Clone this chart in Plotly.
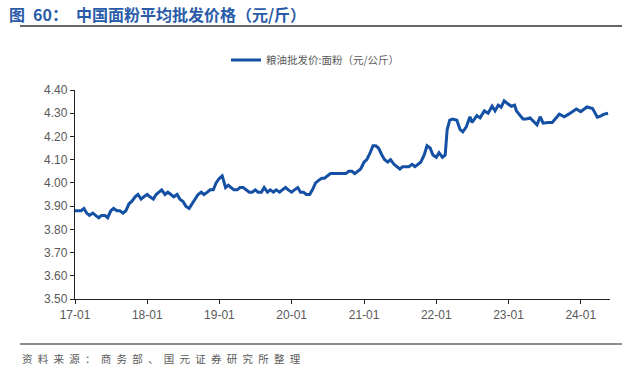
import plotly.graph_objects as go

dates = [
    "2017-01-01","2017-01-15","2017-02-01","2017-02-15","2017-03-01","2017-03-15","2017-04-01","2017-04-15",
    "2017-05-01","2017-05-15","2017-06-01","2017-06-15","2017-07-01","2017-07-15","2017-08-01","2017-08-15",
    "2017-09-01","2017-09-15","2017-10-01","2017-10-15","2017-11-01","2017-11-15","2017-12-01","2017-12-15",
    "2018-01-01","2018-01-15","2018-02-01","2018-02-15","2018-03-01","2018-03-15","2018-04-01","2018-04-15",
    "2018-05-01","2018-05-15","2018-06-01","2018-06-15","2018-07-01","2018-07-15","2018-08-01","2018-08-15",
    "2018-09-01","2018-09-15","2018-10-01","2018-10-15","2018-11-01","2018-11-15","2018-12-01","2018-12-15",
    "2019-01-01","2019-01-15","2019-02-01","2019-02-15","2019-03-01","2019-03-15","2019-04-01","2019-04-15",
    "2019-05-01","2019-05-15","2019-06-01","2019-06-15","2019-07-01","2019-07-15","2019-08-01","2019-08-15",
    "2019-09-01","2019-09-15","2019-10-01","2019-10-15","2019-11-01","2019-11-15","2019-12-01","2019-12-15",
    "2020-01-01","2020-01-15","2020-02-01","2020-02-15","2020-03-01","2020-03-15","2020-04-01","2020-04-15",
    "2020-05-01","2020-05-15","2020-06-01","2020-06-15","2020-07-01","2020-07-15","2020-08-01","2020-08-15",
    "2020-09-01","2020-09-15","2020-10-01","2020-10-15","2020-11-01","2020-11-15","2020-12-01","2020-12-15",
    "2021-01-01","2021-01-15","2021-02-01","2021-02-15","2021-03-01","2021-03-15","2021-04-01","2021-04-15",
    "2021-05-01","2021-05-15","2021-06-01","2021-06-15","2021-07-01","2021-07-15","2021-08-01","2021-08-15",
    "2021-09-01","2021-09-15","2021-10-01","2021-10-15","2021-11-01","2021-11-15","2021-12-01","2021-12-15",
    "2022-01-01","2022-01-15","2022-02-01","2022-02-15","2022-02-25","2022-03-10","2022-03-25","2022-04-15",
    "2022-05-01","2022-05-15","2022-06-01","2022-06-20","2022-07-01","2022-07-25","2022-08-10","2022-09-01",
    "2022-09-20","2022-10-10","2022-10-25","2022-11-10","2022-11-25","2022-12-10","2022-12-25","2023-01-15",
    "2023-02-01","2023-02-10","2023-03-15","2023-04-01","2023-04-20","2023-05-25","2023-06-10","2023-06-25",
    "2023-07-20","2023-08-10","2023-09-15","2023-10-10","2023-11-01","2023-12-10","2024-01-01","2024-02-01",
    "2024-03-01","2024-03-25","2024-04-10","2024-04-25","2024-05-18"
]
values = [
    3.88,3.88,3.88,3.89,3.87,3.86,3.87,3.86,
    3.85,3.86,3.86,3.85,3.88,3.89,3.88,3.88,
    3.87,3.88,3.91,3.92,3.94,3.95,3.93,3.94,
    3.95,3.94,3.93,3.95,3.96,3.97,3.95,3.96,
    3.95,3.94,3.95,3.93,3.92,3.90,3.89,3.91,
    3.93,3.95,3.96,3.95,3.96,3.97,3.97,4.00,
    4.02,4.03,3.98,3.99,3.98,3.97,3.97,3.98,
    3.98,3.97,3.96,3.96,3.97,3.96,3.96,3.98,
    3.96,3.97,3.96,3.97,3.96,3.97,3.98,3.97,
    3.96,3.97,3.98,3.96,3.96,3.95,3.95,3.97,
    4.00,4.01,4.02,4.02,4.03,4.04,4.04,4.04,
    4.04,4.04,4.04,4.05,4.05,4.04,4.05,4.06,
    4.09,4.10,4.13,4.16,4.16,4.15,4.12,4.10,
    4.09,4.10,4.08,4.07,4.06,4.07,4.07,4.07,
    4.08,4.07,4.08,4.09,4.12,4.16,4.15,4.12,
    4.11,4.13,4.11,4.12,4.23,4.27,4.275,4.27,
    4.23,4.22,4.24,4.285,4.26,4.29,4.28,4.31,
    4.30,4.33,4.31,4.335,4.326,4.353,4.343,4.33,
    4.335,4.31,4.275,4.275,4.28,4.25,4.285,4.257,
    4.26,4.26,4.296,4.285,4.296,4.318,4.307,4.327,
    4.32,4.283,4.287,4.295,4.30
]

tick_vals = ["2017-01-01","2018-01-01","2019-01-01","2020-01-01","2021-01-01","2022-01-01","2023-01-01","2024-01-01"]
tick_text = ["17-01","18-01","19-01","20-01","21-01","22-01","23-01","24-01"]
y_ticks = [3.50,3.60,3.70,3.80,3.90,4.00,4.10,4.20,4.30,4.40]

series_name = "粮油批发价:面粉（元/公斤）"
title_text = "图 60：中国面粉平均批发价格（元/斤）"
source_text = "资料来源：商务部、国元证券研究所整理"

line_color = "#1450a3"
tick_color = "#595959"

fig = go.Figure()
fig.add_trace(go.Scatter(x=dates, y=values, mode="lines", name=series_name,
                         line=dict(color=line_color, width=3)))

L, R, T, B = 75, 28, 90, 72
W, H = 638, 371
pw, ph = W - L - R, H - T - B

def px(x):
    return (x - L) / pw

def py(y):
    return (H - B - y) / ph

title_html = "<b>" + title_text.replace("图 60：", "图\u200260：\u2002") + "</b>"
source_html = "\u2002".join(list(source_text))

fig.update_layout(
    width=W, height=H,
    margin=dict(l=L, r=R, t=T, b=B),
    paper_bgcolor="white", plot_bgcolor="white",
    showlegend=True,
    legend=dict(orientation="h", x=px(226), xanchor="left", y=py(60), yanchor="middle",
                font=dict(family="Noto Sans CJK SC", size=10.5, color=tick_color),
                itemwidth=30, bgcolor="rgba(0,0,0,0)"),
    font=dict(family="Liberation Sans, Arial", color=tick_color),
    xaxis=dict(range=["2017-01-01", "2024-05-28"], tickvals=tick_vals, ticktext=tick_text,
               showgrid=False, showline=True, linecolor="#222222", linewidth=1.3,
               ticks="outside", ticklen=4, tickcolor="#222222",
               tickfont=dict(size=12, color=tick_color, family="Liberation Sans, Arial"), zeroline=False),
    yaxis=dict(range=[3.50, 4.40], tickvals=y_ticks, tickformat=".2f",
               showgrid=False, showline=True, linecolor="#222222", linewidth=1.3,
               ticks="outside", ticklen=4, tickcolor="#222222",
               tickfont=dict(size=12, color=tick_color, family="Liberation Sans, Arial"), zeroline=False),
    shapes=[
        dict(type="line", xref="paper", yref="paper", x0=px(20), x1=px(622), y0=py(26), y1=py(26),
             line=dict(color="#333333", width=1.5)),
        dict(type="line", xref="paper", yref="paper", x0=px(20), x1=px(622), y0=py(344), y1=py(344),
             line=dict(color="#8c8c8c", width=2)),
    ],
    annotations=[
        dict(text=title_html, xref="paper", yref="paper", x=px(7), y=py(14),
             xanchor="left", yanchor="middle", showarrow=False,
             font=dict(family="Noto Sans CJK SC", size=16, color="#2a5ba8")),
        dict(text=source_html, xref="paper", yref="paper", x=px(20), y=py(358),
             xanchor="left", yanchor="middle", showarrow=False,
             font=dict(family="Noto Sans CJK SC", size=10.5, color=tick_color)),
    ],
)

fig.write_html("out.html", config={"displayModeBar": False},
               post_script="document.body.style.margin='0';")
